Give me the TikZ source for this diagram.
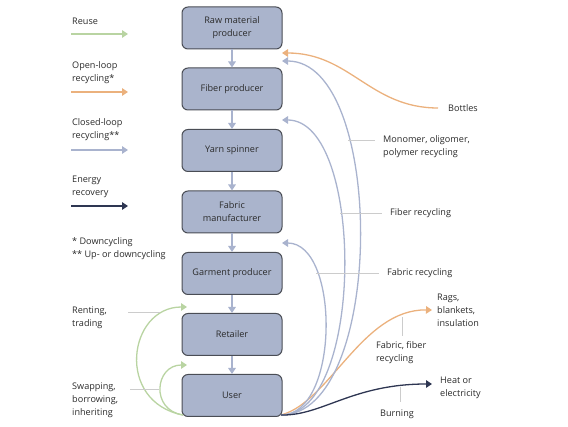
\documentclass[tikz,border=0pt]{standalone}
\usepackage{fontspec}
\setmainfont{Open Sans}
\usetikzlibrary{arrows.meta}
\definecolor{boxfill}{HTML}{AAB4CC}
\definecolor{boxline}{HTML}{4A4D55}
\definecolor{reusec}{HTML}{B9D4A2}
\definecolor{openc}{HTML}{EBB17D}
\definecolor{closedc}{HTML}{A9B3CE}
\definecolor{energyc}{HTML}{2E3652}
\definecolor{leaderc}{HTML}{CCCCCC}
\definecolor{txtc}{HTML}{2A2A2A}
\tikzset{
  stagebox/.style={draw=boxline, line width=1pt, fill=boxfill, rounded corners=6pt,
    minimum width=100pt, minimum height=42pt, align=center, inner sep=0pt, text=txtc},
  lbl/.style={anchor=west, align=left, inner sep=0pt, text=txtc},
  tip/.style={-{Triangle[length=6pt,width=7.5pt]}},
  flowarrow/.style={tip, draw=closedc, line width=1.5pt},
  reusearr/.style={tip, draw=reusec, line width=1.3pt},
  openarr/.style={tip, draw=openc, line width=1.3pt},
  closedarr/.style={tip, draw=closedc, line width=1.3pt},
  energyarr/.style={tip, draw=energyc, line width=1.3pt},
  leader/.style={draw=leaderc, line width=0.9pt}
}
\begin{document}
\begin{tikzpicture}[x=1pt,y=-1pt, font=\fontsize{9.1}{13}\selectfont]
\useasboundingbox (0,0) rectangle (568,427);

% stages
\node[stagebox] (b1) at (232,28) {Raw material\\producer};
\node[stagebox] (b2) at (232,89) {Fiber producer};
\node[stagebox] (b3) at (232,150.5) {Yarn spinner};
\node[stagebox] (b4) at (232,212) {Fabric\\manufacturer};
\node[stagebox] (b5) at (232,273.5) {Garment producer};
\node[stagebox] (b6) at (232,334.5) {Retailer};
\node[stagebox] (b7) at (232,395.5) {User};

\draw[flowarrow] (b1.south) -- (b2.north);
\draw[flowarrow] (b2.south) -- (b3.north);
\draw[flowarrow] (b3.south) -- (b4.north);
\draw[flowarrow] (b4.south) -- (b5.north);
\draw[flowarrow] (b5.south) -- (b6.north);
\draw[flowarrow] (b6.south) -- (b7.north);

% legend
\node[lbl] (lreuse) at (72,21) {Reuse};
\node[lbl] (lopen) at (72,72.5) {Open-loop\\recycling*};
\node[lbl] (lclosed) at (72,129.5) {Closed-loop\\recycling**};
\node[lbl] (lenergy) at (72,186.5) {Energy\\recovery};
\node[lbl] (lnote) at (72,248.5) {* Downcycling\\** Up- or downcycling};
\coordinate (r1a) at (71,34);  \coordinate (r1b) at (128,34);
\coordinate (r2a) at (71,92);  \coordinate (r2b) at (128,92);
\coordinate (r3a) at (71,150); \coordinate (r3b) at (128,150);
\coordinate (r4a) at (71,206); \coordinate (r4b) at (128,206);
\draw[reusearr] (r1a) -- (r1b);
\draw[openarr] (r2a) -- (r2b);
\draw[closedarr] (r3a) -- (r3b);
\draw[energyarr] (r4a) -- (r4b);

% endpoints
\coordinate (uR) at (281,415);
\coordinate (uL) at (183,415);
\coordinate (tBottles) at (282,53);
\coordinate (tMono) at (282,61);
\coordinate (tFiber) at (282,120);
\coordinate (tFabric) at (282,243);
\coordinate (tRent) at (187,307);
\coordinate (tSwap) at (187,365);
\coordinate (tRags) at (432,310);
\coordinate (tHeat) at (432,384);
\coordinate (sBottles) at (438,108);

% reuse loops
\draw[reusearr] (uL) .. controls (115,402) and (128,307) .. (tRent);
\draw[reusearr] (uL) .. controls (150,410) and (155,365) .. (tSwap);

% open-loop
\draw[openarr] (sBottles) .. controls (370,108) and (350,53) .. (tBottles);
\draw[openarr] (uR) .. controls (330,402) and (362,309) .. (tRags);

% closed-loop
\draw[closedarr] (uR) .. controls (386,415) and (386,61) .. (tMono);
\draw[closedarr] (uR) .. controls (365,415) and (365,120) .. (tFiber);
\draw[closedarr] (uR) .. controls (340,415) and (340,243) .. (tFabric);

% energy
\draw[energyarr] (uR) .. controls (322,416) and (352,384) .. (tHeat);

% leaders
\coordinate (lr1) at (128,312); \coordinate (lr2) at (160,312);
\coordinate (ls1) at (130,389); \coordinate (ls2) at (159,389);
\coordinate (lm1) at (348,140); \coordinate (lm2) at (375,140);
\coordinate (lf1) at (340,213); \coordinate (lf2) at (382,213);
\coordinate (lb1) at (316,273); \coordinate (lb2) at (379,273);
\coordinate (lff1) at (402,317); \coordinate (lff2) at (402,336);
\coordinate (lbu1) at (400,387); \coordinate (lbu2) at (400,402);
\draw[leader] (lr1) -- (lr2);
\draw[leader] (ls1) -- (ls2);
\draw[leader] (lm1) -- (lm2);
\draw[leader] (lf1) -- (lf2);
\draw[leader] (lb1) -- (lb2);
\draw[leader] (lff1) -- (lff2);
\draw[leader] (lbu1) -- (lbu2);

% labels
\node[lbl] (trent) at (72,317.5) {Renting,\\trading};
\node[lbl] (tswap) at (72,400) {Swapping,\\borrowing,\\inheriting};
\node[lbl] (tbottles) at (448,108) {Bottles};
\node[lbl] (tmono) at (383,146.5) {Monomer, oligomer,\\polymer recycling};
\node[lbl] (tfiber) at (390,213) {Fiber recycling};
\node[lbl] (tfabric) at (387,273) {Fabric recycling};
\node[lbl] (trags) at (437,310) {Rags,\\blankets,\\insulation};
\node[lbl] (tff) at (376,352.5) {Fabric, fiber\\recycling};
\node[lbl] (theat) at (440,387.5) {Heat or\\electricity};
\node[lbl] (tburn) at (380,414) {Burning};
\end{tikzpicture}
\end{document}
